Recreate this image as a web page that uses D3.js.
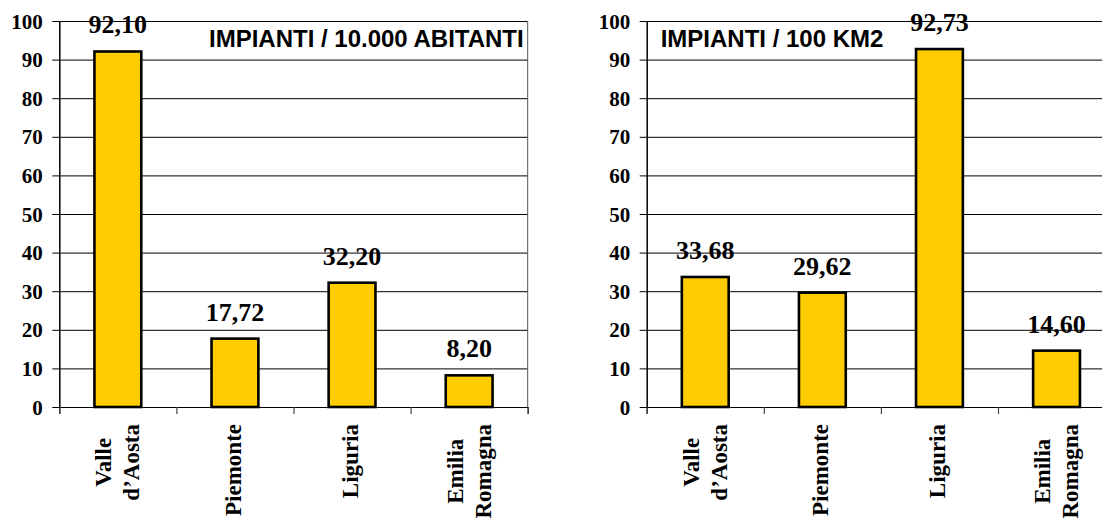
<!DOCTYPE html>
<html>
<head>
<meta charset="utf-8">
<script src="https://cdn.jsdelivr.net/npm/d3@7"></script>
<style>
  html, body { margin: 0; padding: 0; background: #fff; }
  svg { display: block; }
</style>
</head>
<body>
<svg id="chart" width="1102" height="520"></svg>
<script>
// Regions shown on the horizontal axis
const categories = ["Valle d’Aosta", "Piemonte", "Liguria", "Emilia Romagna"];

// Plants per 10,000 inhabitants
const perInhabitants = [92.10, 17.72, 32.20, 8.20];

// Plants per 100 km²
const perArea = [33.68, 29.62, 92.73, 14.60];

// Y axis ticks
const yTicks = [0, 10, 20, 30, 40, 50, 60, 70, 80, 90, 100];

const panelTitles = ["IMPIANTI / 10.000 ABITANTI", "IMPIANTI / 100 KM2"];

const svg = d3.select("#chart");
const serif = "'Liberation Serif', 'Times New Roman', serif";
const sans = "'Liberation Sans', Arial, sans-serif";
const fmt = v => d3.format(".2f")(v).replace(".", ",");

const plotTop = 21, plotBottom = 407;
const y = d3.scaleLinear().domain([0, 100]).range([plotBottom, plotTop]);

function drawPanel(values, title, left, right, titleAnchor) {
  const g = svg.append("g");
  const width = right - left;

  const x = d3.scaleBand()
    .domain(categories)
    .range([left, right])
    .paddingInner(0.6)
    .paddingOuter(0.3);

  // boundaries between categories, used for the bottom tick marks
  const edges = d3.scaleLinear().domain([0, categories.length]).range([left, right]);

  // horizontal gridlines
  g.append("g")
    .attr("transform", `translate(${left},0)`)
    .call(d3.axisRight(y).tickValues(yTicks).tickSize(width).tickFormat(""))
    .call(s => s.select(".domain").remove())
    .call(s => s.selectAll(".tick line").attr("stroke", "#000").attr("stroke-width", 1));

  // right frame edge
  g.append("line")
    .attr("x1", right).attr("x2", right)
    .attr("y1", plotTop).attr("y2", plotBottom)
    .attr("stroke", "#555").attr("stroke-width", 1);

  // bars
  g.selectAll("rect.bar")
    .data(values)
    .join("rect")
    .attr("class", "bar")
    .attr("x", (d, i) => x(categories[i]))
    .attr("width", x.bandwidth())
    .attr("y", d => y(d))
    .attr("height", d => y(0) - y(d))
    .attr("fill", "#FFCC00")
    .attr("stroke", "#000")
    .attr("stroke-width", 2.6);

  // value labels
  g.selectAll("text.value")
    .data(values)
    .join("text")
    .attr("class", "value")
    .attr("x", (d, i) => x(categories[i]) + x.bandwidth() / 2)
    .attr("y", d => y(d) - 18)
    .attr("text-anchor", "middle")
    .attr("font-family", serif)
    .attr("font-weight", "bold")
    .attr("font-size", 26)
    .attr("fill", "#000")
    .text(fmt);

  // bottom axis with tick marks at the category boundaries
  g.append("g")
    .attr("transform", `translate(0,${plotBottom})`)
    .call(d3.axisBottom(edges).tickValues(d3.range(categories.length + 1)).tickSize(7).tickFormat(""))
    .call(s => s.select(".domain").attr("stroke", "#000").attr("stroke-width", 1.2))
    .call(s => s.selectAll(".tick line").attr("stroke", "#444").attr("stroke-width", 1.2));

  // left axis
  g.append("g")
    .attr("transform", `translate(${left},0)`)
    .call(d3.axisLeft(y).tickValues(yTicks).tickSize(7).tickPadding(9.5).tickSizeOuter(0))
    .call(s => s.select(".domain").attr("stroke", "#000").attr("stroke-width", 1.5))
    .call(s => s.selectAll(".tick line").attr("stroke", "#000").attr("stroke-width", 1))
    .call(s => s.selectAll(".tick text")
      .attr("font-family", serif)
      .attr("font-weight", "bold")
      .attr("font-size", 21)
      .attr("fill", "#000")
      .attr("dy", "0.34em"));

  // rotated category labels, each word on its own line, lines centred
  categories.forEach(name => {
    const lines = name.split(" ");
    const cx = x(name) + x.bandwidth() / 2;
    const lg = g.append("g");
    const texts = lines.map(line => lg.append("text")
      .attr("font-family", serif)
      .attr("font-weight", "bold")
      .attr("font-size", 23)
      .attr("fill", "#000")
      .attr("text-anchor", "middle")
      .text(line));
    const maxLen = d3.max(texts, t => t.node().getComputedTextLength());
    const offsets = lines.length === 1 ? [6] : [-6.5, 21.5];
    lg.attr("transform", `translate(${cx},${424 + maxLen / 2}) rotate(-90)`);
    texts.forEach((t, i) => t.attr("x", 0).attr("y", offsets[i]));
  });

  // panel title
  g.append("text")
    .attr("x", titleAnchor === "end" ? right - 4 : left + 14)
    .attr("y", 47)
    .attr("text-anchor", titleAnchor)
    .attr("font-family", sans)
    .attr("font-weight", "bold")
    .attr("font-size", 24)
    .attr("fill", "#000")
    .text(title);
}

drawPanel(perInhabitants, panelTitles[0], 59.3, 527.7, "end");
drawPanel(perArea, panelTitles[1], 646.7, 1115.1, "start");
</script>
</body>
</html>
